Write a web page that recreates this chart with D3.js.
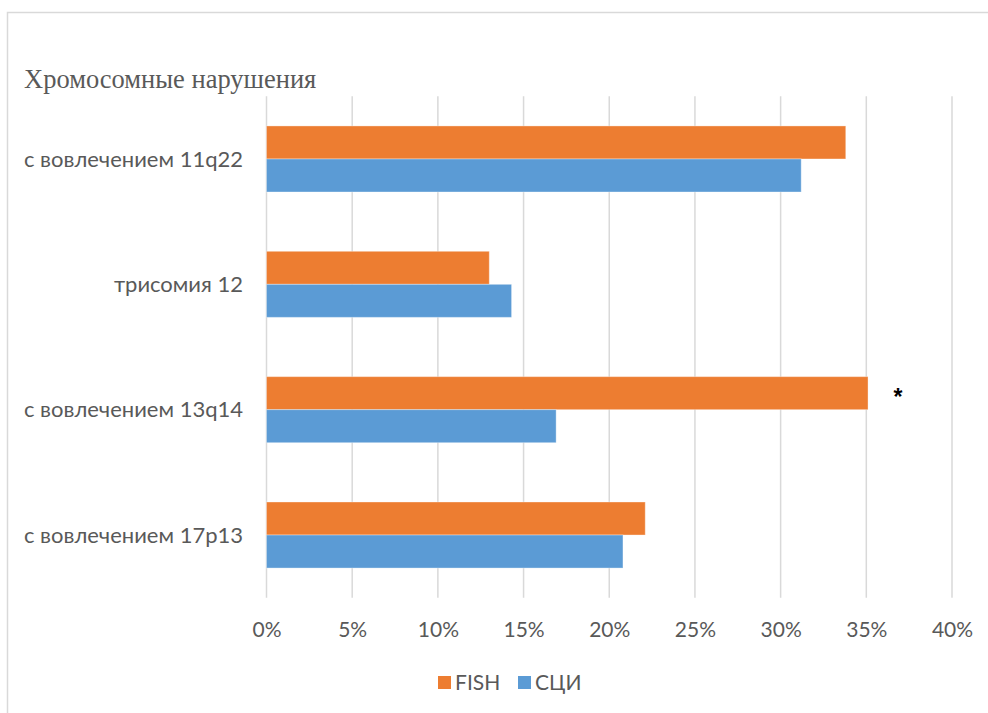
<!DOCTYPE html>
<html>
<head>
<meta charset="utf-8">
<script src="https://cdn.jsdelivr.net/npm/d3@7"></script>
<style>
  body { margin: 0; background: #fff; }
  svg text { fill: #595959; }
</style>
</head>
<body>
<div id="chart"></div>
<script>
// categories from top to bottom
var categories = ["с вовлечением 11q22", "трисомия 12", "с вовлечением 13q14", "с вовлечением 17p13"];
var seriesNames = ["FISH", "СЦИ"];
var fishValues = [33.8, 13.0, 35.1, 22.1];
var sciValues = [31.2, 14.3, 16.9, 20.8];
var tickValues = [0, 5, 10, 15, 20, 25, 30, 35, 40];
var colors = ["#ED7D31", "#5B9BD5"];
var chartTitle = "Хромосомные нарушения";
var marked = ["с вовлечением 13q14"]; // asterisk next to FISH bar

function drawChart() {
    var width = 988, height = 713;
    var left = 266.5, right = 952, top = 96.3, bottom = 597.7;

    var svg = d3.select("#chart").append("svg")
        .attr("width", width)
        .attr("height", height);

    // outer frame (runs off the right/bottom edge)
    svg.append("rect")
        .attr("x", 7.5).attr("y", 12.5)
        .attr("width", 1000).attr("height", 800)
        .attr("fill", "#fff")
        .attr("stroke", "#d9d9d9")
        .attr("stroke-width", 1.5);

    var x = d3.scaleLinear().domain([0, 40]).range([left, right]);
    var y = d3.scaleBand().domain(categories).range([top, bottom])
        .paddingInner(0.473).paddingOuter(0.2365);
    var ySub = d3.scaleBand().domain(seriesNames).range([0, y.bandwidth()]);

    // gridlines
    svg.append("g").selectAll("line")
        .data(tickValues)
        .enter().append("line")
        .attr("x1", function(d) { return x(d); })
        .attr("x2", function(d) { return x(d); })
        .attr("y1", top).attr("y2", bottom)
        .attr("stroke", "#d9d9d9")
        .attr("stroke-width", 1.5);

    var rows = categories.map(function(c, i) {
        return {cat: c, values: [fishValues[i], sciValues[i]]};
    });

    var groups = svg.append("g").selectAll("g")
        .data(rows)
        .enter().append("g")
        .attr("transform", function(d) { return "translate(0," + y(d.cat) + ")"; });

    groups.selectAll("rect")
        .data(function(d) { return d.values.map(function(v, j) { return {name: seriesNames[j], value: v, j: j}; }); })
        .enter().append("rect")
        .attr("x", x(0))
        .attr("y", function(d) { return ySub(d.name); })
        .attr("width", function(d) { return x(d.value) - x(0); })
        .attr("height", ySub.bandwidth())
        .attr("fill", function(d) { return colors[d.j]; })
        .attr("stroke", "#fff")
        .attr("stroke-opacity", 0.35)
        .attr("stroke-width", 1);

    // asterisk
    groups.filter(function(d) { return marked.indexOf(d.cat) >= 0; })
        .append("text")
        .attr("x", function(d) { return x(d.values[0]) + 30; })
        .attr("y", ySub("FISH") + ySub.bandwidth() / 2 + 12)
        .attr("text-anchor", "middle")
        .style("font-family", "'Liberation Sans', Arial, sans-serif")
        .style("font-size", "23px")
        .style("font-weight", "bold")
        .style("fill", "#000")
        .text("*");

    // y labels
    var yAxis = d3.axisLeft(y).tickSize(0).tickPadding(0);
    var yG = svg.append("g")
        .attr("transform", "translate(243,0)")
        .call(yAxis);
    yG.select(".domain").remove();
    yG.selectAll("text")
        .style("font-family", "Lato, 'Open Sans', sans-serif")
        .style("font-size", "22px")
        .attr("dy", "0.35em");

    // x labels
    var xAxis = d3.axisBottom(x).tickValues(tickValues).tickSize(0).tickPadding(0)
        .tickFormat(function(d) { return d + "%"; });
    var xG = svg.append("g")
        .attr("transform", "translate(0,630)")
        .call(xAxis);
    xG.select(".domain").remove();
    xG.selectAll("text")
        .style("font-family", "Lato, 'Open Sans', sans-serif")
        .style("font-size", "21px")
        .attr("dy", "0.35em");

    // title
    svg.append("text")
        .attr("x", 24).attr("y", 88)
        .style("font-family", "'Liberation Serif', 'Times New Roman', serif")
        .style("font-size", "26.5px")
        .text(chartTitle);

    // legend
    var legendX = [438, 518];
    var legend = svg.append("g").selectAll("g")
        .data(seriesNames)
        .enter().append("g")
        .attr("transform", function(d, i) { return "translate(" + legendX[i] + ",676)"; });
    legend.append("rect")
        .attr("width", 13).attr("height", 13)
        .attr("fill", function(d, i) { return colors[i]; });
    legend.append("text")
        .attr("x", 17).attr("y", 6.5)
        .attr("dy", "0.35em")
        .style("font-family", "Lato, 'Open Sans', sans-serif")
        .style("font-size", "21px")
        .text(function(d) { return d; });
}

drawChart();
</script>
</body>
</html>
